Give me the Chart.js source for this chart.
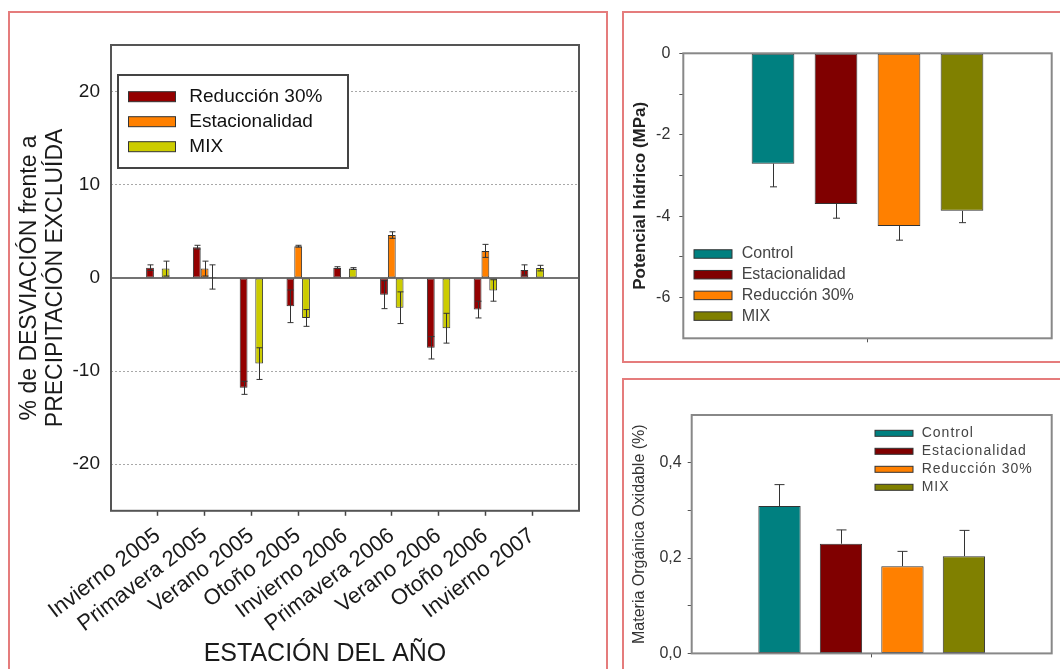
<!DOCTYPE html>
<html>
<head>
<meta charset="utf-8">
<script src="https://cdn.jsdelivr.net/npm/chart.js@4.4.1/dist/chart.umd.min.js"></script>
<style>
  html, body { margin: 0; padding: 0; background: #fff; }
  body { width: 1060px; height: 669px; position: relative; overflow: hidden; }
  .panel { position: absolute; border: 2px solid #e57c7c; box-sizing: border-box; }
  canvas { position: absolute; left: 0; top: 0; }
</style>
</head>
<body>
<div class="panel" style="left:8px;top:11px;width:600px;height:700px"></div>
<div class="panel" style="left:622px;top:11px;width:460px;height:352px"></div>
<div class="panel" style="left:622px;top:378px;width:460px;height:330px"></div>
<canvas id="desviacion" width="1060" height="669"></canvas>
<canvas id="potencial" width="1060" height="669"></canvas>
<canvas id="materia" width="1060" height="669"></canvas>
<script>
// --- left chart: % deviation per season
const seasons = ['Invierno 2005', 'Primavera 2005', 'Verano 2005', 'Otoño 2005', 'Invierno 2006',
  'Primavera 2006', 'Verano 2006', 'Otoño 2006', 'Invierno 2007'];
const reduccionDev = [1.1, 3.3, -11.8, -3.05, 1.1, -1.8, -7.5, -3.4, 0.85];
const reduccionErr = [0.3, 0.2, 0.7, 1.75, 0.1, 1.5, 1.2, 0.9, 0.55];
const estacionalidadDev = [null, 1.0, null, 3.4, null, 4.6, null, 2.9, null];
const estacionalidadErr = [0, 0.8, 0, 0.1, 0, 0.35, 0, 0.7, 0];
const mixDev = [1.0, 0.1, -9.2, -4.3, 1.0, -3.2, -5.4, -1.35, 1.05];
const mixErr = [0.8, 1.3, 1.7, 0.9, 0.1, 1.7, 1.6, 1.15, 0.3];
const devTickValues = [-20, -10, 0, 10, 20];
const devTickLabels = ['-20', '-10', '0', '10', '20'];

// --- right charts: one value per treatment
const treatments = ['Control', 'Estacionalidad', 'Reducción 30%', 'MIX'];
const treatmentColors = ['#008080', '#800000', '#ff8000', '#808000'];
const potencial = [-2.71, -3.7, -4.24, -3.87];
const potencialErr = [0.57, 0.35, 0.35, 0.29];
const potTickValues = [-6, -5, -4, -3, -2, -1, 0];
const potTickLabels = ['-6', '', '-4', '', '-2', '', '0'];
const materia = [0.309, 0.23, 0.183, 0.204];
const materiaErr = [0.045, 0.029, 0.031, 0.054];
const momTickValues = [0, 0.1, 0.2, 0.3, 0.4];
const momTickLabels = ['0,0', '', '0,2', '', '0,4'];

Chart.defaults.font.family = 'Arial, "Liberation Sans", sans-serif';
Chart.defaults.color = '#222';
Chart.defaults.animation = false;

// frame round the plot area, plus optional zero line
const chartFrame = {
  id: 'chartFrame',
  beforeDatasetsDraw(chart, args, o) {
    if (!o.zeroLine) return;
    const { ctx, chartArea: a, scales: { y } } = chart;
    const y0 = y.getPixelForValue(0);
    ctx.save();
    ctx.strokeStyle = o.zeroLine;
    ctx.lineWidth = 1.5;
    ctx.beginPath();
    ctx.moveTo(a.left, y0);
    ctx.lineTo(a.right, y0);
    ctx.stroke();
    ctx.restore();
  },
  afterDatasetsDraw(chart, args, o) {
    const { ctx, chartArea: a } = chart;
    ctx.save();
    ctx.strokeStyle = o.color;
    ctx.lineWidth = o.width;
    ctx.strokeRect(a.left, a.top, a.right - a.left, a.bottom - a.top);
    ctx.restore();
  }
};

// error bars from dataset.errors
const errorBars = {
  id: 'errorBars',
  afterDatasetsDraw(chart, args, o) {
    const { ctx, scales: { y } } = chart;
    ctx.save();
    ctx.strokeStyle = o.color;
    ctx.lineWidth = 1;
    chart.data.datasets.forEach((ds, di) => {
      const meta = chart.getDatasetMeta(di);
      meta.data.forEach((bar, i) => {
        const v = ds.data[i];
        const e = ds.errors[i];
        if (v === null || !e) return;
        const sign = v < 0 ? -1 : 1;
        const outer = y.getPixelForValue(v + sign * e);
        const inner = o.both ? y.getPixelForValue(v - sign * e) : bar.y;
        const x = Math.round(bar.x) + 0.5;
        ctx.beginPath();
        ctx.moveTo(x, inner);
        ctx.lineTo(x, outer);
        ctx.moveTo(x - o.cap / 2, outer);
        ctx.lineTo(x + o.cap / 2, outer);
        if (o.both) {
          ctx.moveTo(x - o.cap / 2, inner);
          ctx.lineTo(x + o.cap / 2, inner);
        }
        ctx.stroke();
      });
    });
    ctx.restore();
  }
};

// legend drawn inside the plot area
const boxLegend = {
  id: 'boxLegend',
  afterDraw(chart, args, o) {
    const { ctx, chartArea: a } = chart;
    ctx.save();
    if (o.frame) {
      ctx.fillStyle = '#fff';
      ctx.fillRect(a.left + o.frame.x, a.top + o.frame.y, o.frame.w, o.frame.h);
      ctx.strokeStyle = '#444';
      ctx.lineWidth = 2;
      ctx.strokeRect(a.left + o.frame.x, a.top + o.frame.y, o.frame.w, o.frame.h);
    }
    ctx.font = o.font;
    ctx.textBaseline = 'middle';
    if (o.letterSpacing) ctx.letterSpacing = o.letterSpacing;
    chart.data.datasets.forEach((ds, i) => {
      const cy = a.top + o.y + i * o.rowH;
      ctx.fillStyle = ds.backgroundColor;
      ctx.fillRect(a.left + o.x, cy - o.swH / 2, o.swW, o.swH);
      ctx.strokeStyle = '#333';
      ctx.lineWidth = 1;
      ctx.strokeRect(a.left + o.x, cy - o.swH / 2, o.swW, o.swH);
      ctx.fillStyle = o.color;
      ctx.fillText(ds.label, a.left + o.textX, cy);
    });
    ctx.restore();
  }
};

const fixTicks = (values) => (scale) => {
  scale.ticks = values.map(v => ({ value: v }));
};

// ---------- left chart
const padded = (arr) => [null, ...arr, null];
const devLabels = ['', ...seasons, ''];

new Chart(document.getElementById('desviacion'), {
  type: 'bar',
  data: {
    labels: devLabels,
    datasets: [
      { label: 'Reducción 30%', data: padded(reduccionDev), errors: padded(reduccionErr), backgroundColor: '#940000' },
      { label: 'Estacionalidad', data: padded(estacionalidadDev), errors: padded(estacionalidadErr), backgroundColor: '#ff8000' },
      { label: 'MIX', data: padded(mixDev), errors: padded(mixErr), backgroundColor: '#cccc00' }
    ]
  },
  plugins: [chartFrame, errorBars, boxLegend],
  options: {
    responsive: false,
    layout: { padding: { left: 71, top: 45, right: 481, bottom: 0 } },
    datasets: {
      bar: { categoryPercentage: 0.5, barPercentage: 1.0, borderWidth: 1, borderColor: '#333', borderSkipped: false }
    },
    scales: {
      x: {
        type: 'category',
        offset: false,
        border: { display: false },
        grid: {
          offset: false, drawOnChartArea: false, tickLength: 5, tickWidth: 1.5,
          tickColor: c => (c.index === 0 || c.index === devLabels.length - 1) ? 'transparent' : '#444'
        },
        ticks: { autoSkip: false, minRotation: 37, maxRotation: 37, padding: 7, font: { size: 22 }, color: '#1a1a1a' },
        afterFit: s => { s.height = 128.2; }
      },
      y: {
        min: -25, max: 25,
        afterBuildTicks: fixTicks(devTickValues),
        border: { display: false, dash: [2, 2] },
        grid: { drawTicks: false, color: c => c.tick && c.tick.value === 0 ? 'transparent' : '#a8a8a8', lineWidth: 1 },
        ticks: { padding: 11, font: { size: 19 }, color: '#1a1a1a', callback: (v, i) => devTickLabels[i] },
        title: {
          display: true,
          text: ['% de DESVIACIÓN frente a', 'PRECIPITACIÓN EXCLUÍDA'],
          font: { size: 23, lineHeight: 1.1 }, color: '#1a1a1a',
          padding: { top: -53.6, bottom: 0 }
        },
        afterFit: s => { s.width = 40; }
      }
    },
    plugins: {
      legend: { display: false },
      tooltip: { enabled: false },
      title: { display: true, text: 'ESTACIÓN DEL AÑO', position: 'bottom', font: { size: 25, weight: 'normal' }, color: '#1a1a1a', padding: 0 },
      chartFrame: { color: '#555', width: 2, zeroLine: '#444' },
      errorBars: { color: '#333', cap: 6, both: true },
      boxLegend: {
        frame: { x: 7, y: 30, w: 230, h: 93 },
        x: 17.5, y: 51.7, rowH: 25, swW: 47, swH: 10, textX: 78.3,
        font: '19px Arial, "Liberation Sans", sans-serif', color: '#111'
      }
    }
  }
});

// ---------- right charts
const treatmentDatasets = (values, errors) => treatments.map((t, i) => ({
  label: t, data: [values[i]], errors: [errors[i]], backgroundColor: treatmentColors[i]
}));

const sideAxisX = (height) => ({
  type: 'category',
  border: { display: false },
  grid: { offset: false, drawOnChartArea: false, tickLength: 4, tickColor: '#555' },
  ticks: { display: false },
  afterFit: s => { s.height = height; }
});

new Chart(document.getElementById('potencial'), {
  type: 'bar',
  data: { labels: [''], datasets: treatmentDatasets(potencial, potencialErr) },
  plugins: [chartFrame, errorBars, boxLegend],
  options: {
    responsive: false,
    layout: { padding: { left: 624, top: 53.3, right: 8.3, bottom: 309 } },
    datasets: {
      bar: { categoryPercentage: 0.684, barPercentage: 0.678, borderWidth: 1, borderColor: '#333', borderSkipped: false }
    },
    scales: {
      x: sideAxisX(21.7),
      y: {
        min: -7, max: 0,
        afterBuildTicks: fixTicks(potTickValues),
        border: { display: false },
        grid: { drawOnChartArea: false, tickLength: 4, tickColor: '#555' },
        ticks: { padding: 9, font: { size: 16 }, color: '#333', callback: (v, i) => potTickLabels[i] },
        title: {
          display: true, text: 'Potencial hídrico (MPa)',
          font: { size: 17, weight: 'bold' }, color: '#222',
          padding: { top: 5.8, bottom: 0 }
        },
        afterFit: s => { s.width = 59.3; }
      }
    },
    plugins: {
      legend: { display: false },
      tooltip: { enabled: false },
      chartFrame: { color: '#888', width: 2 },
      errorBars: { color: '#333', cap: 7, both: false },
      boxLegend: {
        x: 10.7, y: 200.7, rowH: 20.7, swW: 38, swH: 8.5, textX: 58.4,
        font: '16px Arial, "Liberation Sans", sans-serif', color: '#444'
      }
    }
  }
});

new Chart(document.getElementById('materia'), {
  type: 'bar',
  data: { labels: [''], datasets: treatmentDatasets(materia, materiaErr) },
  plugins: [chartFrame, errorBars, boxLegend],
  options: {
    responsive: false,
    layout: { padding: { left: 624, top: 415, right: 8.3, bottom: 0 } },
    datasets: {
      bar: { categoryPercentage: 0.683, barPercentage: 0.688, borderWidth: 1, borderColor: '#333', borderSkipped: false }
    },
    scales: {
      x: sideAxisX(14),
      y: {
        min: 0, max: 0.5,
        afterBuildTicks: fixTicks(momTickValues),
        border: { display: false },
        grid: { drawOnChartArea: false, tickLength: 4, tickColor: '#555' },
        ticks: { padding: 6, font: { size: 16 }, color: '#333', callback: (v, i) => momTickLabels[i] },
        title: {
          display: true, text: 'Materia Orgánica Oxidable (%)',
          font: { size: 16 }, color: '#333',
          padding: { top: 6.4, bottom: 0 }
        },
        afterFit: s => { s.width = 67.7; }
      }
    },
    plugins: {
      legend: { display: false },
      tooltip: { enabled: false },
      chartFrame: { color: '#888', width: 2 },
      errorBars: { color: '#333', cap: 10, both: false },
      boxLegend: {
        x: 183.3, y: 18.3, rowH: 18, swW: 38, swH: 6, textX: 230,
        font: '14px Arial, "Liberation Sans", sans-serif', color: '#444', letterSpacing: '1px'
      }
    }
  }
});
</script>
</body>
</html>
